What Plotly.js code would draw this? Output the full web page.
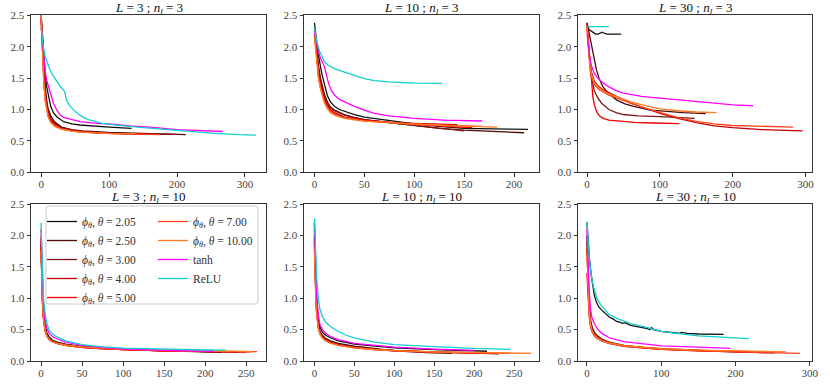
<!DOCTYPE html>
<html>
<head>
<meta charset="utf-8">
<script src="https://cdn.plot.ly/plotly-3.0.1.min.js"></script>
<style>
  body { margin: 0; background: #fff; }
  #chart { width: 830px; height: 388px; }
</style>
</head>
<body>
<div id="chart"></div>
<script>
// Loss curves as [epoch, loss] pairs
// Panel 1: L = 3 ; n_l = 3
const p1_205 = [[0,2.5],[2,2.15],[4,1.8],[6,1.55],[8,1.37],[11,1.18],[14,1.05],[18,0.95],[23,0.885],[33,0.806],[45,0.77],[57,0.753],[80,0.73],[100,0.72],[133,0.70]];
const p1_250 = [[0,2.45],[2,2.0],[4,1.62],[6,1.35],[8,1.15],[10,1.02],[14,0.9],[20,0.8],[30,0.72],[45,0.68],[60,0.66],[80,0.645],[100,0.635],[150,0.62],[213,0.60]];
const p1_300 = [[0,2.4],[2,1.95],[4,1.58],[6,1.3],[8,1.1],[10,0.98],[14,0.86],[20,0.78],[30,0.71],[45,0.67],[60,0.65],[80,0.635],[100,0.625],[150,0.61],[200,0.605]];
const p1_400 = [[0,2.5],[2,1.9],[4,1.5],[6,1.22],[8,1.05],[10,0.94],[14,0.83],[20,0.76],[30,0.70],[45,0.665],[60,0.645],[80,0.63],[100,0.62],[130,0.612],[160,0.607]];
const p1_500 = [[0,2.45],[2,1.88],[4,1.45],[6,1.18],[8,1.02],[10,0.92],[14,0.82],[20,0.75],[30,0.695],[45,0.66],[60,0.64],[80,0.628],[100,0.62],[150,0.612]];
const p1_700 = [[0,2.4],[2,1.85],[4,1.42],[6,1.15],[8,1.0],[10,0.9],[14,0.8],[20,0.74],[30,0.69],[45,0.655],[60,0.64],[80,0.625],[100,0.617],[140,0.607],[175,0.60]];
const p1_1000 = [[0,2.5],[2,1.82],[4,1.4],[6,1.13],[8,0.98],[10,0.89],[14,0.79],[20,0.73],[30,0.685],[45,0.655],[60,0.64],[80,0.628],[100,0.62],[140,0.615]];
const p1_tanh = [[0,2.3],[2,2.05],[4,1.8],[6,1.6],[8,1.47],[11,1.36],[14,1.22],[18,1.10],[23,0.99],[28,0.91],[33,0.875],[38,0.86],[57,0.806],[82,0.78],[100,0.77],[131,0.737],[160,0.72],[200,0.68],[235,0.66],[267,0.65]];
const p1_relu = [[0,2.3],[1,2.2],[3,2.0],[6,1.84],[10,1.7],[13,1.63],[18,1.53],[23,1.44],[28,1.37],[33,1.31],[35,1.27],[37,1.15],[40,1.09],[43,1.045],[50,0.97],[57,0.91],[65,0.86],[72,0.83],[90,0.78],[111,0.75],[150,0.71],[200,0.665],[250,0.625],[290,0.60],[316,0.593]];

// Panel 2: L = 10 ; n_l = 3
const p2_205 = [[0,2.38],[1,2.2],[3,1.95],[5,1.78],[7,1.6],[10,1.4],[13,1.22],[16,1.12],[20,1.05],[25,1.0],[30,0.97],[40,0.92],[50,0.88],[75,0.82],[100,0.77],[125,0.73],[150,0.70],[180,0.69],[214,0.685]];
const p2_250 = [[0,2.3],[2,1.95],[4,1.7],[6,1.5],[8,1.35],[10,1.24],[13,1.12],[16,1.04],[20,0.99],[25,0.95],[30,0.92],[40,0.87],[50,0.84],[75,0.79],[100,0.74],[125,0.7],[150,0.67],[180,0.645],[210,0.63]];
const p2_300 = [[0,2.25],[2,1.9],[4,1.65],[6,1.46],[8,1.32],[10,1.2],[13,1.1],[16,1.03],[20,0.98],[25,0.94],[30,0.91],[40,0.87],[50,0.84],[75,0.79],[100,0.745],[125,0.70],[150,0.66]];
const p2_400 = [[0,2.2],[2,1.85],[4,1.6],[6,1.42],[8,1.28],[10,1.17],[13,1.07],[16,1.0],[20,0.95],[25,0.91],[30,0.88],[40,0.85],[50,0.83],[75,0.8],[100,0.78],[143,0.76]];
const p2_500 = [[0,2.25],[2,1.82],[4,1.55],[6,1.38],[8,1.25],[10,1.15],[13,1.05],[16,0.99],[20,0.94],[25,0.9],[30,0.875],[40,0.845],[50,0.825],[75,0.79],[100,0.76],[130,0.73],[158,0.71]];
const p2_700 = [[0,2.2],[2,1.8],[4,1.52],[6,1.35],[8,1.22],[10,1.12],[13,1.03],[16,0.97],[20,0.93],[25,0.89],[30,0.865],[40,0.84],[50,0.82],[75,0.79],[100,0.77],[130,0.75],[168,0.73]];
const p2_1000 = [[0,2.15],[2,1.78],[4,1.5],[6,1.33],[8,1.2],[10,1.1],[13,1.01],[16,0.95],[20,0.91],[25,0.88],[30,0.86],[40,0.835],[50,0.815],[75,0.79],[100,0.765],[140,0.74],[183,0.72]];
const p2_tanh = [[0,2.25],[3,2.0],[5,1.86],[8,1.75],[10,1.68],[12,1.55],[14,1.42],[17,1.3],[20,1.23],[25,1.16],[30,1.12],[40,1.05],[50,0.99],[60,0.94],[75,0.9],[90,0.87],[100,0.86],[130,0.83],[168,0.817]];
const p2_relu = [[0,2.3],[2,2.1],[5,1.93],[8,1.82],[10,1.76],[14,1.7],[20,1.65],[27,1.61],[35,1.57],[42,1.53],[50,1.49],[60,1.46],[75,1.44],[100,1.42],[128,1.415]];

// Panel 3: L = 30 ; n_l = 3
const p3_205 = [[0,2.38],[1,2.32],[3,2.27],[6,2.25],[9,2.22],[12,2.2],[15,2.2],[18,2.22],[21,2.23],[24,2.21],[28,2.2],[35,2.2],[47,2.2]];
const p3_250 = [[0,2.38],[3,2.2],[6,2.0],[9,1.82],[13,1.63],[17,1.48],[22,1.36],[30,1.25],[41,1.15],[52,1.09],[64,1.05],[87,0.99],[110,0.965],[132,0.95],[163,0.935]];
const p3_300 = [[0,2.35],[2,2.0],[4,1.72],[6,1.52],[8,1.4],[10,1.3],[14,1.2],[20,1.1],[30,1.0],[40,0.95],[50,0.92],[70,0.9],[100,0.885],[125,0.87],[148,0.86]];
const p3_400 = [[0,2.3],[2,2.0],[4,1.75],[6,1.6],[8,1.5],[10,1.45],[15,1.38],[20,1.33],[30,1.27],[45,1.18],[60,1.1],[80,1.02],[100,0.94],[125,0.86],[150,0.79],[175,0.74],[200,0.71],[240,0.68],[296,0.66]];
const p3_500 = [[0,2.38],[2,2.05],[4,1.7],[6,1.4],[8,1.2],[10,1.08],[13,0.97],[17,0.9],[22,0.86],[30,0.83],[45,0.81],[65,0.795],[90,0.785],[127,0.775]];
const p3_700 = [[0,2.3],[2,1.9],[4,1.65],[6,1.52],[8,1.45],[10,1.4],[15,1.33],[20,1.29],[30,1.23],[45,1.16],[60,1.1],[80,1.02],[100,0.95],[125,0.87],[150,0.81],[175,0.77],[200,0.745],[240,0.73],[283,0.72]];
const p3_1000 = [[0,2.3],[2,1.95],[4,1.7],[6,1.56],[8,1.48],[10,1.43],[15,1.36],[20,1.31],[30,1.25],[45,1.18],[60,1.12],[80,1.06],[100,1.01],[125,0.98],[150,0.96],[178,0.95]];
const p3_tanh = [[0,2.2],[2,1.95],[4,1.8],[6,1.7],[8,1.62],[10,1.57],[15,1.5],[20,1.44],[30,1.36],[40,1.3],[50,1.26],[75,1.21],[100,1.18],[125,1.15],[150,1.125],[175,1.1],[200,1.075],[228,1.06]];
const p3_relu = [[0,2.32],[10,2.32],[20,2.32],[30,2.32]];

// Panel 4: L = 3 ; n_l = 10
const p4_205 = [[0,1.95],[1,1.4],[2,1.0],[3,0.78],[5,0.56],[7,0.45],[10,0.38],[14,0.33],[20,0.3],[30,0.27],[50,0.23],[75,0.205],[100,0.19],[150,0.165],[200,0.15],[218,0.145]];
const p4_250 = [[0,1.9],[1,1.3],[2,0.95],[3,0.72],[5,0.52],[7,0.42],[10,0.36],[14,0.32],[20,0.29],[30,0.26],[50,0.225],[75,0.2],[100,0.185],[150,0.16],[200,0.145],[220,0.138]];
const p4_300 = [[0,1.85],[1,1.25],[2,0.9],[3,0.7],[5,0.5],[7,0.41],[10,0.35],[14,0.31],[20,0.285],[30,0.255],[50,0.22],[75,0.198],[100,0.183],[150,0.16],[200,0.148],[240,0.14]];
const p4_400 = [[0,1.8],[1,1.2],[2,0.88],[3,0.68],[5,0.49],[7,0.4],[10,0.345],[14,0.31],[20,0.28],[30,0.25],[50,0.218],[75,0.196],[100,0.18],[150,0.16],[200,0.148],[250,0.14]];
const p4_500 = [[0,1.78],[1,1.18],[2,0.86],[3,0.67],[5,0.48],[7,0.4],[10,0.34],[14,0.305],[20,0.278],[30,0.25],[50,0.216],[75,0.195],[100,0.18],[150,0.16],[200,0.15],[255,0.145]];
const p4_700 = [[0,2.0],[1,1.3],[2,0.92],[3,0.7],[5,0.5],[7,0.41],[10,0.345],[14,0.31],[20,0.28],[30,0.25],[50,0.215],[75,0.195],[100,0.18],[150,0.163],[200,0.153],[263,0.148]];
const p4_1000 = [[0,1.75],[1,1.15],[2,0.85],[3,0.66],[5,0.48],[7,0.4],[10,0.34],[14,0.305],[20,0.28],[30,0.255],[50,0.225],[75,0.205],[100,0.19],[150,0.172],[200,0.16],[258,0.15]];
const p4_tanh = [[0,2.1],[1,1.55],[2,1.15],[3,0.9],[5,0.66],[7,0.52],[10,0.44],[14,0.39],[20,0.35],[30,0.3],[50,0.25],[75,0.215],[100,0.195],[150,0.17],[210,0.155]];
const p4_relu = [[0,2.2],[1,1.7],[2,1.3],[3,1.0],[5,0.76],[7,0.6],[10,0.49],[14,0.43],[20,0.38],[30,0.32],[50,0.26],[75,0.225],[100,0.205],[150,0.185],[200,0.175],[225,0.172]];

// Panel 5: L = 10 ; n_l = 10
const p5_205 = [[0,2.2],[1,1.6],[2,1.2],[3,0.95],[5,0.66],[7,0.54],[10,0.46],[14,0.41],[20,0.37],[30,0.32],[50,0.27],[75,0.235],[100,0.21],[150,0.18],[216,0.155]];
const p5_250 = [[0,2.1],[1,1.45],[2,1.05],[3,0.82],[5,0.57],[7,0.47],[10,0.41],[14,0.36],[20,0.32],[30,0.28],[50,0.235],[75,0.2],[100,0.16],[140,0.135],[172,0.122]];
const p5_300 = [[0,2.0],[1,1.4],[2,1.0],[3,0.78],[5,0.55],[7,0.45],[10,0.39],[14,0.34],[20,0.3],[30,0.26],[50,0.22],[75,0.19],[100,0.17],[150,0.145],[200,0.13],[216,0.128]];
const p5_400 = [[0,1.95],[1,1.35],[2,0.97],[3,0.76],[5,0.54],[7,0.44],[10,0.38],[14,0.335],[20,0.3],[30,0.26],[50,0.215],[75,0.185],[100,0.165],[150,0.14],[200,0.122],[231,0.115]];
const p5_500 = [[0,1.9],[1,1.3],[2,0.95],[3,0.74],[5,0.53],[7,0.44],[10,0.38],[14,0.33],[20,0.295],[30,0.255],[50,0.212],[75,0.183],[100,0.163],[150,0.14],[200,0.125],[230,0.118]];
const p5_700 = [[0,1.85],[1,1.3],[2,0.93],[3,0.73],[5,0.52],[7,0.43],[10,0.37],[14,0.325],[20,0.29],[30,0.25],[50,0.21],[75,0.182],[100,0.162],[150,0.14],[200,0.127],[245,0.12]];
const p5_1000 = [[0,1.8],[1,1.25],[2,0.9],[3,0.71],[5,0.51],[7,0.42],[10,0.365],[14,0.32],[20,0.285],[30,0.25],[50,0.21],[75,0.183],[100,0.165],[150,0.145],[200,0.132],[240,0.125],[271,0.122]];
const p5_tanh = [[0,2.2],[1,1.7],[2,1.3],[3,1.02],[5,0.72],[7,0.58],[10,0.5],[14,0.44],[20,0.39],[30,0.34],[50,0.28],[75,0.245],[100,0.22],[150,0.19],[200,0.168]];
const p5_relu = [[0,2.27],[1,1.9],[2,1.55],[3,1.3],[5,0.98],[7,0.82],[10,0.71],[14,0.62],[20,0.55],[30,0.47],[40,0.41],[50,0.37],[75,0.3],[100,0.26],[150,0.23],[200,0.2],[245,0.186]];

// Panel 6: L = 30 ; n_l = 10
const p6_205 = [[0,2.2],[2,1.85],[4,1.55],[6,1.35],[8,1.18],[10,1.05],[13,0.93],[16,0.86],[20,0.81],[25,0.75],[30,0.7],[35,0.67],[40,0.63],[44,0.62],[48,0.6],[52,0.61],[56,0.58],[62,0.56],[68,0.55],[75,0.53],[80,0.52],[85,0.5],[87,0.53],[90,0.5],[100,0.47],[110,0.46],[125,0.44],[127,0.455],[135,0.44],[150,0.43],[165,0.425],[184,0.425]];
const p6_250 = [[0,2.0],[1,1.5],[2,1.15],[3,0.92],[5,0.65],[7,0.54],[10,0.46],[14,0.4],[20,0.35],[30,0.3],[50,0.25],[75,0.215],[100,0.195],[150,0.165],[200,0.145],[252,0.13]];
const p6_300 = [[0,1.9],[1,1.4],[2,1.05],[3,0.85],[5,0.6],[7,0.5],[10,0.43],[14,0.38],[20,0.33],[30,0.285],[50,0.24],[75,0.21],[100,0.19],[150,0.165],[200,0.15],[238,0.14]];
const p6_400 = [[0,1.8],[1,1.3],[2,1.0],[3,0.8],[5,0.57],[7,0.48],[10,0.42],[14,0.37],[20,0.33],[30,0.285],[50,0.24],[75,0.21],[100,0.19],[150,0.168],[200,0.152],[220,0.148]];
const p6_500 = [[0,1.4],[1,1.1],[2,0.88],[3,0.72],[5,0.54],[7,0.46],[10,0.4],[14,0.36],[20,0.32],[30,0.28],[50,0.235],[75,0.205],[100,0.185],[150,0.16],[200,0.145],[240,0.135]];
const p6_700 = [[0,1.85],[1,1.35],[2,1.0],[3,0.8],[5,0.57],[7,0.47],[10,0.41],[14,0.36],[20,0.32],[30,0.28],[50,0.235],[75,0.205],[100,0.185],[150,0.162],[200,0.145],[250,0.13],[287,0.12]];
const p6_1000 = [[0,1.7],[1,1.3],[2,1.0],[3,0.8],[5,0.58],[7,0.48],[10,0.42],[14,0.37],[20,0.33],[30,0.29],[50,0.245],[75,0.215],[100,0.195],[150,0.172],[200,0.158],[240,0.15],[268,0.145]];
const p6_tanh = [[0,2.1],[1,1.7],[2,1.38],[3,1.13],[5,0.81],[7,0.68],[10,0.6],[14,0.51],[20,0.44],[30,0.37],[50,0.31],[75,0.27],[100,0.24],[150,0.22],[193,0.2]];
const p6_relu = [[0,2.22],[1,2.0],[2,1.82],[3,1.67],[5,1.45],[7,1.28],[10,1.13],[14,0.98],[20,0.87],[25,0.8],[30,0.74],[40,0.68],[50,0.63],[60,0.59],[75,0.55],[88,0.51],[100,0.47],[120,0.44],[150,0.4],[175,0.385],[200,0.37],[218,0.356]];

const seriesNames = ['<i>ϕ</i><sub><i>θ</i></sub>, <i>θ</i> = 2.05', '<i>ϕ</i><sub><i>θ</i></sub>, <i>θ</i> = 2.50',
  '<i>ϕ</i><sub><i>θ</i></sub>, <i>θ</i> = 3.00', '<i>ϕ</i><sub><i>θ</i></sub>, <i>θ</i> = 4.00',
  '<i>ϕ</i><sub><i>θ</i></sub>, <i>θ</i> = 5.00', '<i>ϕ</i><sub><i>θ</i></sub>, <i>θ</i> = 7.00',
  '<i>ϕ</i><sub><i>θ</i></sub>, <i>θ</i> = 10.00', 'tanh', 'ReLU'];
const seriesColors = ['#111111', '#4d0a0a', '#861414', '#c00000', '#f00000', '#ff4422', '#ff7a22', '#ff00ff', '#13cfcf'];
const panelTitles = ['<i>L</i> = 3 ; <i>n<sub>l</sub></i> = 3', '<i>L</i> = 10 ; <i>n<sub>l</sub></i> = 3', '<i>L</i> = 30 ; <i>n<sub>l</sub></i> = 3',
  '<i>L</i> = 3 ; <i>n<sub>l</sub></i> = 10', '<i>L</i> = 10 ; <i>n<sub>l</sub></i> = 10', '<i>L</i> = 30 ; <i>n<sub>l</sub></i> = 10'];
const xRanges = [[-15, 331], [-10.5, 225], [-12.4, 309], [-12.2, 274], [-13, 281], [-12, 303]];
const xSteps = [100, 50, 100, 50, 50, 100];

const panels = [
  [p1_205, p1_250, p1_300, p1_400, p1_500, p1_700, p1_1000, p1_tanh, p1_relu],
  [p2_205, p2_250, p2_300, p2_400, p2_500, p2_700, p2_1000, p2_tanh, p2_relu],
  [p3_205, p3_250, p3_300, p3_400, p3_500, p3_700, p3_1000, p3_tanh, p3_relu],
  [p4_205, p4_250, p4_300, p4_400, p4_500, p4_700, p4_1000, p4_tanh, p4_relu],
  [p5_205, p5_250, p5_300, p5_400, p5_500, p5_700, p5_1000, p5_tanh, p5_relu],
  [p6_205, p6_250, p6_300, p6_400, p6_500, p6_700, p6_1000, p6_tanh, p6_relu]
];

const W = 830, H = 388;
const px = v => v / W;
const py = v => 1 - v / H;
const colDomains = [[px(31), px(266)], [px(304), px(539)], [px(578), px(812)]];
const rowDomains = [[py(172.3), py(15.3)], [py(361), py(204)]];
const titleRows = [py(8), py(197.5)];

const serif = 'Liberation Serif, DejaVu Serif, serif';
const traces = [];
const layout = {
  width: W, height: H,
  margin: { l: 0, r: 0, t: 0, b: 0 },
  paper_bgcolor: '#fff', plot_bgcolor: '#fff',
  font: { family: serif, size: 11, color: '#333' },
  annotations: [],
  shapes: []
};

panels.forEach((series, i) => {
  const n = i + 1;
  const xa = n === 1 ? 'x' : 'x' + n;
  const ya = n === 1 ? 'y' : 'y' + n;
  series.forEach((pts, j) => {
    traces.push({
      x: pts.map(p => p[0]),
      y: pts.map(p => p[1]),
      type: 'scatter',
      mode: 'lines',
      name: seriesNames[j],
      xaxis: xa, yaxis: ya,
      line: { color: seriesColors[j], width: 1.3 },
      showlegend: n === 4,
      legend: j < 5 ? 'legend' : 'legend2',
      hoverinfo: 'skip'
    });
  });
  const axisCommon = {
    showline: true, mirror: true, linecolor: '#333', linewidth: 1,
    ticks: 'outside', ticklen: 3.5, tickcolor: '#333', tickwidth: 1,
    showgrid: false, zeroline: false, tickfont: { family: serif, size: 11, color: '#444' }
  };
  layout[n === 1 ? 'xaxis' : 'xaxis' + n] = Object.assign({}, axisCommon, {
    domain: colDomains[i % 3], anchor: ya, range: xRanges[i], dtick: xSteps[i], tick0: 0,
    ticklabelstandoff: -2
  });
  layout[n === 1 ? 'yaxis' : 'yaxis' + n] = Object.assign({}, axisCommon, {
    domain: rowDomains[Math.floor(i / 3)], anchor: xa, range: [0, 2.5], dtick: 0.5, tickformat: '.1f'
  });
  layout.annotations.push({
    text: panelTitles[i], showarrow: false,
    xref: 'paper', yref: 'paper',
    x: (colDomains[i % 3][0] + colDomains[i % 3][1]) / 2,
    y: titleRows[Math.floor(i / 3)],
    xanchor: 'center', yanchor: 'middle',
    font: { family: serif, size: 13, color: '#111' }
  });
});

// legend frame drawn behind the two legend columns
const bx0 = px(46), bx1 = px(258), by0 = py(206), by1 = py(304);
const rx = px(3), ry = 3 / H;
layout.shapes.push({
  type: 'path', xref: 'paper', yref: 'paper', layer: 'above',
  path: `M${bx0 + rx},${by0} L${bx1 - rx},${by0} Q${bx1},${by0} ${bx1},${by0 - ry} L${bx1},${by1 + ry} Q${bx1},${by1} ${bx1 - rx},${by1} L${bx0 + rx},${by1} Q${bx0},${by1} ${bx0},${by1 + ry} L${bx0},${by0 - ry} Q${bx0},${by0} ${bx0 + rx},${by0} Z`,
  fillcolor: 'rgba(255,255,255,0.8)', line: { color: '#cccccc', width: 1 }
});

const legendCommon = {
  xref: 'paper', yref: 'paper', xanchor: 'left', yanchor: 'top',
  bgcolor: 'rgba(0,0,0,0)', borderwidth: 0, tracegroupgap: 0,
  font: { family: serif, size: 11.5, color: '#333' }
};
layout.legend = Object.assign({}, legendCommon, { x: px(42), y: py(207) });
layout.legend2 = Object.assign({}, legendCommon, { x: px(153), y: py(207) });

Plotly.newPlot('chart', traces, layout, { staticPlot: true, displayModeBar: false });
</script>
</body>
</html>
